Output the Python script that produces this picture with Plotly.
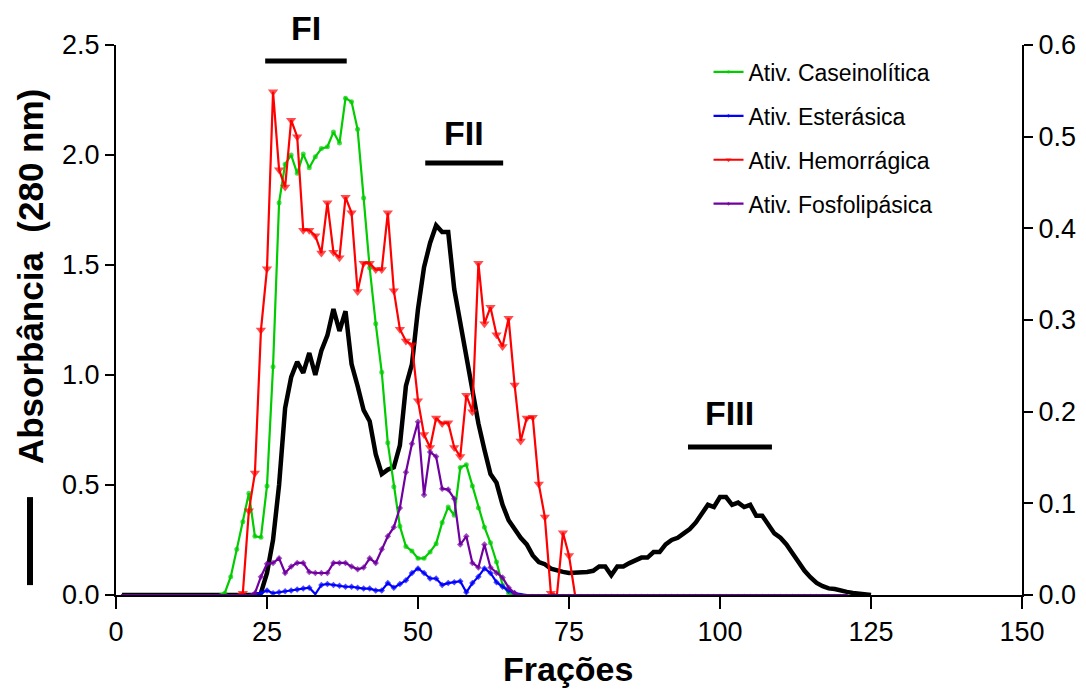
import plotly.graph_objects as go

# ---------------- data ----------------
fractions = list(range(1, 126))

# Absorbance (280 nm), left axis, fractions 1..125
abs_start = [0.0] * 23  # fractions 1..23
abs_values = [
    0.01, 0.10, 0.25, 0.50, 0.85, 0.99, 1.06, 1.01, 1.10, 1.00,   # 24-33
    1.11, 1.18, 1.30, 1.20, 1.29, 1.05, 0.95, 0.84, 0.79, 0.64,   # 34-43
    0.55, 0.57, 0.58, 0.68, 0.95, 1.05, 1.30, 1.49, 1.60, 1.68,   # 44-53
    1.65, 1.65, 1.39, 1.24, 1.08, 0.92, 0.78, 0.66, 0.55, 0.51,   # 54-63
    0.41, 0.34, 0.30, 0.26, 0.23, 0.18, 0.15, 0.14, 0.12, 0.11,   # 64-73
    0.105, 0.10, 0.10, 0.105, 0.105, 0.11, 0.13, 0.13, 0.09, 0.13,  # 74-83
    0.13, 0.145, 0.16, 0.17, 0.17, 0.195, 0.195, 0.23, 0.25, 0.26,  # 84-93
    0.28, 0.30, 0.33, 0.37, 0.41, 0.40, 0.445, 0.445, 0.41, 0.42,   # 94-103
    0.40, 0.41, 0.36, 0.36, 0.32, 0.28, 0.26, 0.23, 0.19, 0.15,     # 104-113
    0.11, 0.08, 0.055, 0.04, 0.03, 0.027, 0.023, 0.014, 0.009, 0.005,  # 114-123
    0.002, 0.0,                                                     # 124-125
]
absorbance = abs_start + abs_values

# Activities, right axis
act_fractions = list(range(1, 122))

caseino_values = [
    0.002, 0.020, 0.050, 0.080, 0.111, 0.064, 0.063, 0.119, 0.249, 0.428,  # 18-27
    0.470, 0.480, 0.460, 0.481, 0.466, 0.478, 0.487, 0.489, 0.505, 0.493,  # 28-37
    0.542, 0.538, 0.508, 0.433, 0.357, 0.296, 0.243, 0.166, 0.118, 0.075,  # 38-47
    0.053, 0.048, 0.040, 0.040, 0.047, 0.056, 0.079, 0.096, 0.087, 0.139,  # 48-57
    0.142, 0.119, 0.095, 0.074, 0.057, 0.036, 0.011, 0.002,                # 58-65
]
caseinolitica = [0.0] * 17 + caseino_values + [0.0] * (121 - 17 - len(caseino_values))

ester_values = [
    0.001, 0.002, 0.005, 0.002, 0.003, 0.004, 0.005, 0.006, 0.007, 0.008,  # 23-32
    0.001, 0.011, 0.012, 0.011, 0.010, 0.009, 0.009, 0.008, 0.007, 0.007,  # 33-42
    0.005, 0.005, 0.013, 0.008, 0.012, 0.016, 0.024, 0.029, 0.024, 0.018,  # 43-52
    0.018, 0.011, 0.013, 0.014, 0.015, 0.003, 0.013, 0.020, 0.029, 0.024,  # 53-62
    0.014, 0.009, 0.005, 0.002, 0.001,                                     # 63-67
]
esterasica = [0.0] * 22 + ester_values + [0.0] * (121 - 22 - len(ester_values))

hemo_values = [
    0.002, 0.092, 0.133, 0.289, 0.356, 0.549, 0.464, 0.445, 0.518, 0.500,  # 21-30
    0.398, 0.398, 0.392, 0.373, 0.428, 0.374, 0.368, 0.434, 0.417, 0.331,  # 31-40
    0.362, 0.362, 0.355, 0.355, 0.417, 0.332, 0.290, 0.277, 0.273, 0.212,  # 41-50
    0.175, 0.161, 0.193, 0.187, 0.188, 0.161, 0.151, 0.218, 0.200, 0.362,  # 51-60
    0.296, 0.314, 0.284, 0.271, 0.302, 0.229, 0.168, 0.193, 0.194, 0.121,  # 61-70
    0.085, 0.002, 0.000, 0.068, 0.043, 0.000,                              # 71-76
]
hemorragica = [0.0] * 20 + hemo_values + [0.0] * (121 - 20 - len(hemo_values))

fosfo_values = [
    0.002, 0.020, 0.034, 0.035, 0.040, 0.024, 0.031, 0.035, 0.035, 0.025,  # 23-32
    0.024, 0.024, 0.024, 0.035, 0.035, 0.035, 0.031, 0.028, 0.030, 0.040,  # 33-42
    0.035, 0.050, 0.064, 0.074, 0.095, 0.134, 0.165, 0.189, 0.109, 0.156,  # 43-52
    0.151, 0.116, 0.115, 0.105, 0.055, 0.064, 0.035, 0.030, 0.055, 0.030,  # 53-62
    0.024, 0.019, 0.008, 0.002,                                            # 63-66
]
fosfolipasica = [0.0] * 22 + fosfo_values + [0.0] * (121 - 22 - len(fosfo_values))

x_ticks = [0, 25, 50, 75, 100, 125, 150]
y_left_ticks = [0.0, 0.5, 1.0, 1.5, 2.0, 2.5]
y_right_ticks = [0.0, 0.1, 0.2, 0.3, 0.4, 0.5, 0.6]

# fraction pools: (label, start, end, bar level on left axis, label level on left axis)
pools = [
    ("FI", 24.7, 38.2, 2.427, 2.577),
    ("FII", 51.2, 64.1, 1.964, 2.10),
    ("FIII", 94.7, 108.6, 0.673, 0.827),
]
Y_LEFT_MAX = 2.5

# ---------------- figure ----------------
fig = go.Figure()

fig.add_trace(go.Scatter(
    x=fractions, y=absorbance, mode="lines", showlegend=False,
    line=dict(color="black", width=4.5), yaxis="y",
))

series = [
    ("Ativ. Caseinolítica", caseinolitica, "#00CC00", "circle", 5),
    ("Ativ. Esterásica", esterasica, "#0000FF", "diamond", 5),
    ("Ativ. Hemorrágica", hemorragica, "#FF0000", "triangle-down", 9),
    ("Ativ. Fosfolipásica", fosfolipasica, "#7000A0", "diamond", 5),
]
for i, (name, vals, color, sym, size) in enumerate(series):
    sizes = [size if v > 0.001 else 2 for v in vals]
    fig.add_trace(go.Scatter(
        x=act_fractions, y=vals, mode="lines+markers", name=name,
        legendgroup=f"g{i}",
        line=dict(color=color, width=2.2),
        marker=dict(symbol=sym, size=sizes, color=color, line=dict(width=0)),
        yaxis="y2",
    ))

for label, x0, x1, lev, tlev in pools:
    fig.add_shape(type="line", xref="x", yref="y", x0=x0, x1=x1, y0=lev, y1=lev,
                  line=dict(color="black", width=5))
    fig.add_annotation(x=(x0 + x1) / 2, y=tlev / Y_LEFT_MAX, xref="x", yref="paper",
                       text=f"<b>{label}</b>",
                       showarrow=False, font=dict(family="Liberation Sans, Arial", size=34, color="black"),
                       yanchor="middle")

# y title with black line indicator
fig.add_annotation(x=-0.0949, y=0.578, xref="paper", yref="paper",
                   text="<b>Absorbância  (280 nm)</b>", textangle=-90, showarrow=False,
                   font=dict(family="Liberation Sans, Arial", size=35, color="black"),
                   xanchor="center", yanchor="middle")
fig.add_shape(type="line", xref="paper", yref="paper", x0=-0.0949, x1=-0.0949, y0=0.018, y1=0.178,
              line=dict(color="black", width=6))
fig.add_annotation(x=0.499, y=-0.135, xref="paper", yref="paper", text="<b>Frações</b>",
                   showarrow=False,
                   font=dict(family="Liberation Sans, Arial", size=34, color="black"),
                   xanchor="center", yanchor="middle")

fig.update_layout(
    width=1086, height=689,
    margin=dict(l=108, r=72, t=37, b=102),
    paper_bgcolor="white", plot_bgcolor="white",
    showlegend=True,
    legend=dict(x=0.654, y=0.99, xanchor="left", yanchor="top",
                font=dict(family="Liberation Sans, Arial", size=23, color="black"),
                traceorder="grouped", tracegroupgap=11, bgcolor="rgba(0,0,0,0)"),
    xaxis=dict(range=[0, 150], tickvals=x_ticks, showgrid=False, zeroline=False,
               showline=True, linecolor="black", linewidth=2, ticks="outside",
               ticklen=12, tickwidth=2, tickcolor="black",
               tickfont=dict(family="Liberation Sans, Arial", size=27, color="black")),
    yaxis=dict(range=[0, Y_LEFT_MAX], tickvals=y_left_ticks, tickformat=".1f", showgrid=False,
               zeroline=False, showline=True, linecolor="black", linewidth=2,
               ticks="outside", ticklen=9, tickwidth=2, tickcolor="black",
               tickfont=dict(family="Liberation Sans, Arial", size=27, color="black")),
    yaxis2=dict(range=[0, 0.6], tickvals=y_right_ticks, tickformat=".1f", overlaying="y",
                side="right", showgrid=False, zeroline=False, showline=True,
                linecolor="black", linewidth=2, ticks="outside", ticklen=9, tickwidth=2,
                tickcolor="black",
                tickfont=dict(family="Liberation Sans, Arial", size=27, color="black")),
)

fig.write_html("out.html")
